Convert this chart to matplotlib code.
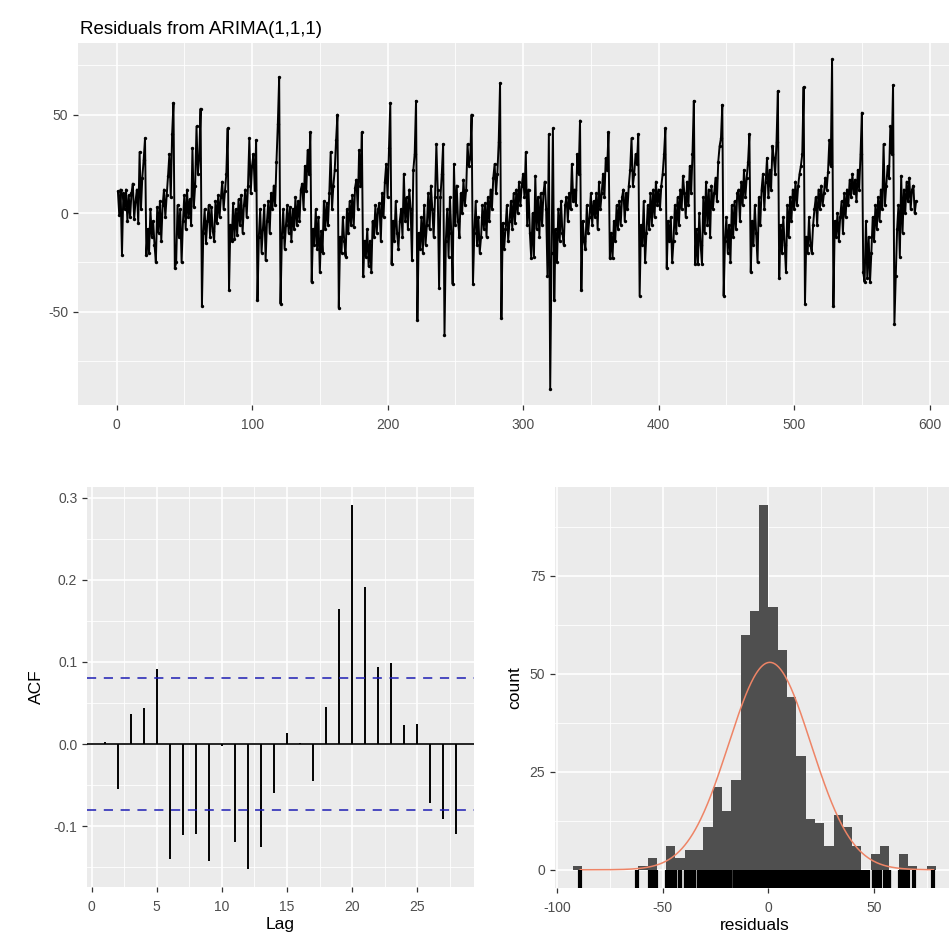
import numpy as np
import matplotlib
matplotlib.use("Agg")
import matplotlib.pyplot as plt
from matplotlib.ticker import FixedLocator, FuncFormatter

plt.rcParams['font.family'] = ['Liberation Sans', 'DejaVu Sans']
plt.rcParams['axes.unicode_minus'] = False

# Model residuals, in time order
residuals = [
    11, -1, 12, -21, 10, 2, 12, -4, 9, -2,
    10, 15, -3, 6, 12, -5, 31, 2, 18, 27,
    38, -21, -8, -20, 2, -12, -4, -16, -25, 3,
    -10, 6, -14, 4, 12, -2, 9, 19, 30, 8,
    40, 56, -28, -25, 4, -12, 2, -25, -4, 9,
    -8, 12, -2, 7, -6, 33, 3, 14, 44, 20,
    28, 53, -47, -10, 2, -15, -4, 4, -12, 3,
    -9, -14, 6, -5, 9, -2, 8, 16, 2, 11,
    20, 43, -39, -6, -14, 5, -13, 2, -11, 7,
    -6, 9, -10, 4, 12, -2, 14, 38, 10, 24,
    30, 12, 37, -44, -12, 2, -20, -8, 4, -24,
    -4, 6, -10, 10, 2, 14, 4, 26, 45, 69,
    -46, -12, 2, -18, -6, 4, -10, 3, -14, 2,
    -8, 8, -6, 6, -4, 12, 15, 2, 24, 11,
    32, 20, 41, -35, -8, -16, 2, -18, -2, -30,
    -9, -20, 6, -8, 5, -6, 10, 31, 2, 14,
    22, 37, 50, -48, -12, -20, -2, -14, -22, 2,
    -10, 6, -6, 9, -7, 13, 17, 2, 32, 14,
    41, -32, -14, -22, -8, -27, -14, -30, -4, -12,
    4, -10, 2, 5, -14, 10, -2, 16, 25, 8,
    33, 56, -26, -4, -14, 6, -10, -18, -4, 2,
    -12, 20, -4, 8, -8, 12, 2, -24, 22, 30,
    57, -54, -10, -18, -2, -20, 4, -16, -6, 10,
    -8, 14, 2, -12, 8, 35, 12, -38, 8, 20,
    35, -62, -14, 2, -22, 8, -10, -36, 25, -6,
    14, -4, -12, 10, 0, 17, 4, 12, 35, 24,
    28, 50, -36, -10, 6, -16, -2, -20, -12, 4,
    -8, 5, -12, 8, -4, 12, 2, 18, 25, 10,
    20, 36, 66, -53, -5, -18, -8, 4, -14, -4,
    6, -8, 10, -5, 12, 0, 16, 4, 14, 20,
    8, 31, -6, 12, -10, -23, 0, -22, 19, -8,
    8, -12, 10, -6, 10, 16, 2, -32, 40, -89,
    -20, 43, -44, -8, -25, 2, -14, 6, -10, -16,
    4, 8, -4, 10, 2, 25, 6, 12, 4, 30,
    20, 47, -39, -4, -14, -18, 4, -10, -2, 10,
    -6, 6, -2, 10, -8, 16, 2, 10, 20, 8,
    28, 22, 41, -23, -10, -23, -4, -14, 4, -8,
    6, -6, 8, 12, -4, 10, 2, 14, 22, 38,
    14, 20, 30, 25, 40, -42, -6, -16, 6, -25,
    -10, 4, -8, 10, -6, 12, -2, 16, 4, 12,
    2, 14, 20, 30, 43, -28, -4, -14, -2, -25,
    -14, 4, -10, 8, -6, 12, 2, 19, 10, -2,
    16, 4, 24, 10, 30, 57, -26, -8, -26, 0,
    -16, -26, 8, -10, 16, -6, 12, -12, 14, 2,
    10, 18, 6, 26, 34, 38, 55, -42, -14, -2,
    -20, -6, -25, 4, -12, 6, -8, 10, 12, -4,
    16, 4, 22, 8, 18, 26, 40, -30, -4, -16,
    4, -10, -25, 8, -6, 12, 20, 2, 16, 28,
    8, 22, 12, 34, 28, 20, 36, 62, -33, -6,
    -20, -2, -16, -30, 4, -12, 8, -4, 12, 2,
    16, 4, 14, 20, 24, 30, 64, -46, -12, -20,
    -2, -16, -20, -6, 2, 8, -6, 12, 2, 14,
    4, 10, 18, 12, 21, 37, 24, 78, -47, -4,
    -12, 0, -14, -2, 6, -10, 10, -2, 12, 4,
    17, 8, 20, 10, 17, 6, 22, 12, 30, 51,
    -30, -35, -4, -33, -12, -35, -20, -2, -14, 4,
    -8, 8, -4, 12, 2, 35, 4, 14, 24, 18,
    44, 30, 65, -56, -32, -8, 4, -22, 19, -10,
    12, 0, 16, 6, 18, 2, 12, 14, 0, 6,
]

# Autocorrelation of the residuals, lags 1..28
acf_lags = list(range(1, 29))
acf_values = [0.003, -0.055, 0.037, 0.044, 0.091, -0.140, -0.111, -0.109,
              -0.143, -0.002, -0.119, -0.152, -0.126, -0.060, 0.013, 0.001,
              -0.045, 0.045, 0.165, 0.291, 0.191, 0.094, 0.099, 0.023,
              0.025, -0.072, -0.091, -0.109]

# Histogram of residuals: first bin edge, bin width and counts per bin
hist_first_edge = -92.4
hist_bin_width = 4.4
hist_counts = [1, 0, 0, 0, 0, 0, 0, 1, 3, 0, 6, 3, 5, 5, 11, 21, 15, 23,
               60, 66, 93, 67, 56, 44, 29, 13, 12, 6, 14, 11, 6, 0, 4, 6,
               0, 4, 1, 0, 1]

# ---------------------------------------------------------------------------
W = H = 949
BG = '#EBEBEB'
TICK_COL = '#4D4D4D'
TICK_SIZE = 10
TITLE_SIZE = 12.5


def expand(lo, hi, mult=0.05):
    r = hi - lo
    return lo - mult * r, hi + mult * r


def panel(rect_px):
    l, t, r, b = rect_px
    return fig.add_axes([l / W, 1 - b / H, (r - l) / W, (b - t) / H])


def theme(ax, xmaj, xmin, ymaj, ymin, xfmt=None, yfmt=None):
    ax.set_facecolor(BG)
    for s in ax.spines.values():
        s.set_visible(False)
    ax.xaxis.set_major_locator(FixedLocator(xmaj))
    ax.xaxis.set_minor_locator(FixedLocator(xmin))
    ax.yaxis.set_major_locator(FixedLocator(ymaj))
    ax.yaxis.set_minor_locator(FixedLocator(ymin))
    if xfmt:
        ax.xaxis.set_major_formatter(FuncFormatter(xfmt))
    if yfmt:
        ax.yaxis.set_major_formatter(FuncFormatter(yfmt))
    ax.grid(which='major', color='white', lw=1.2)
    ax.grid(which='minor', color='white', lw=0.6)
    ax.set_axisbelow(True)
    ax.tick_params(which='major', length=3.5, width=0.9, color='#333333',
                   labelcolor=TICK_COL, labelsize=TICK_SIZE, pad=3.5)
    ax.tick_params(which='minor', length=0)


fig = plt.figure(figsize=(W / 100, H / 100), dpi=100)

intfmt = lambda v, p: f"{v:g}"

# ---- residual series -------------------------------------------------------
res = np.array(residuals, dtype=float)
n = len(res)
t = np.arange(1, n + 1)

ax1 = panel((78, 43, 956, 405))
ax1.plot(t, res, color='black', lw=1.4, zorder=3)
ax1.scatter(t, res, s=6, color='black', linewidths=0, zorder=4)
ax1.set_xlim(*expand(1, n))
ax1.set_ylim(*expand(res.min(), res.max()))
theme(ax1, np.arange(0, 601, 100), np.arange(50, 651, 100),
      [-50, 0, 50], [-75, -25, 25, 75], intfmt, intfmt)
ax1.tick_params(axis='x', pad=6)
fig.text(80 / W, 1 - 30 / H, 'Residuals from ARIMA(1,1,1)', fontsize=13.5,
         va='center', ha='left', color='black')

# ---- ACF -------------------------------------------------------------------
ax2 = panel((87, 487, 474, 887))
ci = 1.96 / np.sqrt(n)
ax2.axhline(0, color='black', lw=1.2, zorder=3)
ax2.vlines(acf_lags, 0, acf_values, color='black', lw=1.4, zorder=3)
for c in (ci, -ci):
    ax2.axhline(c, color='#1E1EB4', lw=1.1, ls=(0, (6, 5)), zorder=3)
ax2.set_xlim(*expand(min(acf_lags), max(acf_lags)))
ax2.set_ylim(*expand(min(acf_values), max(acf_values)))
theme(ax2, [0, 5, 10, 15, 20, 25], [2.5, 7.5, 12.5, 17.5, 22.5, 27.5],
      [-0.1, 0.0, 0.1, 0.2, 0.3], [-0.15, -0.05, 0.05, 0.15, 0.25],
      intfmt, lambda v, p: f"{v:.1f}")
ax2.tick_params(axis='x', pad=6)
ax2.set_xlabel('Lag', fontsize=TITLE_SIZE, labelpad=2)
ax2.set_ylabel('ACF', fontsize=TITLE_SIZE, labelpad=7)

# ---- histogram -------------------------------------------------------------
ax3 = panel((555, 487, 954, 888))
counts = np.array(hist_counts, dtype=float)
edges = hist_first_edge + hist_bin_width * np.arange(len(counts) + 1)
ax3.bar(edges[:-1], counts, width=hist_bin_width, align='edge',
        color='#4F4F4F', lw=0, zorder=2)

centers = edges[:-1] + hist_bin_width / 2
total = counts.sum()
mu = (counts * centers).sum() / total
sd = np.sqrt((counts * (centers - mu) ** 2).sum() / total)
xs = np.linspace(res.min(), res.max(), 400)
ys = total * hist_bin_width * np.exp(-0.5 * ((xs - mu) / sd) ** 2) / (sd * np.sqrt(2 * np.pi))
ax3.plot(xs, ys, color='#EE8466', lw=1.1, zorder=3)

ax3.vlines(res, 0, 0.045, transform=ax3.get_xaxis_transform(),
           color='black', lw=3.0, zorder=4)
ax3.set_xlim(*expand(edges[0], edges[-1]))
ax3.set_ylim(*expand(0, counts.max()))
theme(ax3, [-100, -50, 0, 50], [-75, -25, 25, 75],
      [0, 25, 50, 75], [12.5, 37.5, 62.5, 87.5], intfmt, intfmt)
ax3.tick_params(axis='x', pad=6)
ax3.set_xlabel('residuals', fontsize=TITLE_SIZE, labelpad=2)
ax3.set_ylabel('count', fontsize=TITLE_SIZE, labelpad=5)

fig.savefig('out.png', dpi=100, facecolor='white')
